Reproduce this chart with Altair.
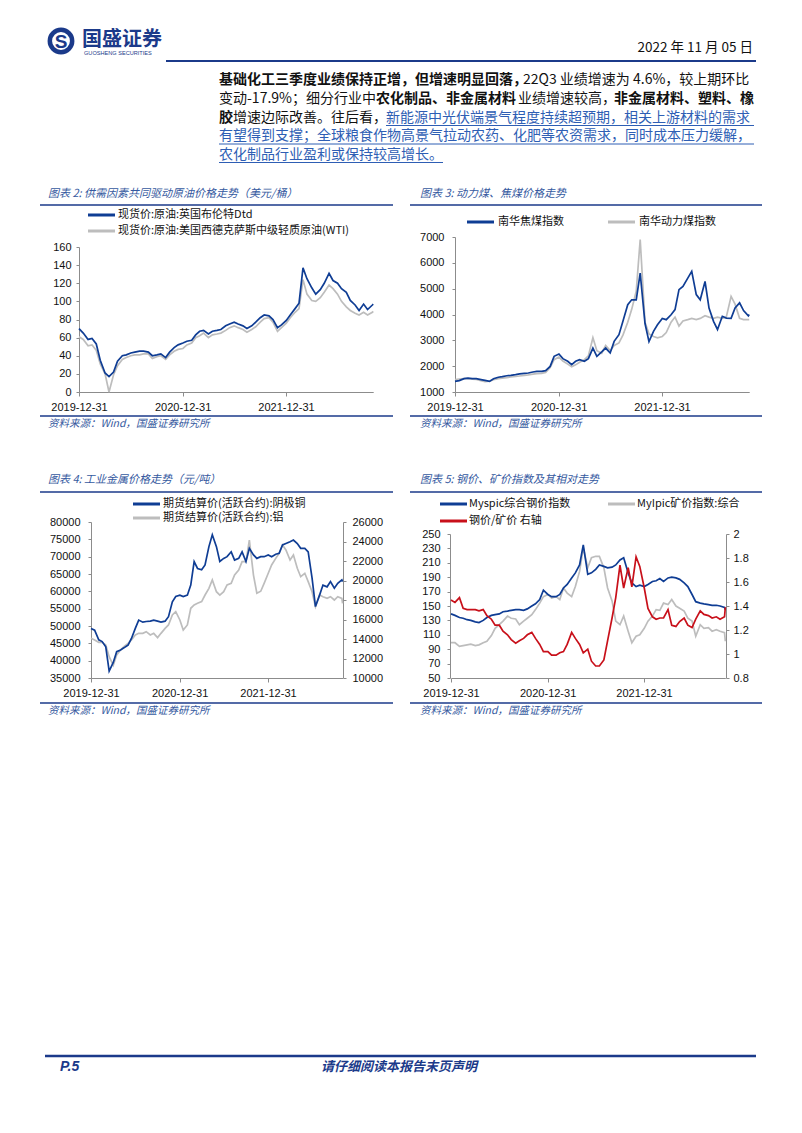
import altair as alt
import pandas as pd

# ---------------- data ----------------
dates = (["2019-12-31"]
         + [d.strftime("%Y-%m-%d") for d in pd.date_range("2020-01-15", "2022-11-01", freq="SMS")]
         + ["2022-11-04"])

brent = [70, 65, 58, 59, 53, 35, 21, 17, 22, 34,
         40, 41, 43, 44, 45, 45, 44, 40, 41, 42,
         38, 44, 49, 52, 54, 56, 57, 63, 67, 68,
         64, 67, 68, 69, 73, 75, 77, 75, 73, 70,
         73, 77, 82, 85, 84, 80, 71, 74, 79, 85,
         92, 98, 137, 125, 115, 108, 113, 120, 131, 123,
         120, 114, 110, 101, 96, 90, 97, 91, 96, 97]
wti = [61, 58, 51, 52, 46, 31, 20, 0, 19, 29,
       36, 38, 40, 41, 41, 42, 42, 37, 39, 40,
       36, 41, 45, 47, 48, 52, 54, 60, 62, 65,
       60, 63, 64, 65, 68, 71, 73, 71, 69, 66,
       69, 72, 77, 81, 82, 77, 67, 71, 76, 82,
       88, 92, 124, 108, 101, 100, 104, 110, 118, 114,
       108, 100, 94, 90, 87, 85, 88, 85, 88, 89]

coking_coal = [1413, 1440, 1515, 1540, 1515, 1515, 1480, 1450, 1410, 1515,
               1570, 1595, 1630, 1645, 1670, 1700, 1720, 1735, 1775, 1800,
               1800, 1825, 1990, 2380, 2470, 2290, 2190, 2060, 2190, 2250,
               2190, 2290, 2700, 2380, 2550, 2700, 2510, 2960, 3220, 3735,
               4380, 4570, 4570, 5600, 3650, 2950, 3350, 3600, 3850, 3800,
               3990, 4190, 4960, 5090, 5410, 5670, 4770, 4570, 5280, 4250,
               3735, 3420, 3930, 3860, 3850, 4250, 4450, 4150, 3950, 4000]
thermal_coal = [1480, 1500, 1520, 1520, 1500, 1490, 1440, 1400, 1420, 1480,
                1520, 1540, 1560, 1580, 1600, 1620, 1640, 1660, 1690, 1710,
                1720, 1760, 1950, 2250, 2350, 2200, 2080, 1980, 2050, 2150,
                2250, 2400, 3100, 2600, 2500, 2800, 2600, 2800, 2900, 3200,
                3700, 4200, 4900, 6900, 3700, 3250, 3150, 3100, 3150, 3300,
                3700, 3900, 3550, 3750, 3800, 3850, 3800, 3850, 3950, 3900,
                3850, 3900, 3850, 3900, 4700, 4400, 3850, 3800, 3800, 3800]

copper = [49300, 48800, 46000, 45500, 44000, 37000, 39500, 42600, 43100, 43700,
          44500, 46400, 49300, 51700, 51100, 51300, 51400, 51700, 51400, 51100,
          51400, 52700, 57000, 58500, 58900, 58500, 58900, 61800, 68600, 66600,
          66200, 67600, 72900, 76300, 72900, 68600, 69500, 70000, 71400, 69000,
          69500, 71400, 68600, 72400, 70500, 69500, 70000, 70000, 70500, 70000,
          70700, 71000, 73400, 73800, 74300, 74800, 73800, 72400, 72400, 71400,
          63800, 55600, 58900, 61800, 61300, 62800, 60900, 62300, 63300, 62800]
aluminium = [14070, 13900, 13660, 13660, 13380, 12190, 11300, 12360, 12870, 13210,
             13560, 13900, 14410, 14580, 14580, 14750, 14410, 14580, 14140, 14580,
             15090, 15440, 16460, 16800, 15950, 14920, 15440, 17150, 17490, 17660,
             17830, 18510, 19200, 20050, 18850, 18510, 18850, 19540, 19710, 20560,
             21080, 21930, 21930, 24150, 20560, 18700, 18900, 19710, 20740, 21590,
             22270, 22790, 23640, 23130, 22100, 22620, 21250, 20390, 20740, 19880,
             18850, 17320, 18510, 18340, 18170, 18340, 18000, 18340, 18170, 17660]

steel_idx = [139, 137, 134, 133, 131, 130, 128, 127, 130, 134,
             137, 138, 139, 142, 143, 144, 145, 145, 144, 146,
             150, 153, 159, 172, 166, 163, 163, 166, 175, 180,
             189, 196, 207, 235, 194, 196, 201, 207, 205, 203,
             204, 207, 214, 217, 196, 182, 177, 179, 177, 180,
             184, 185, 188, 184, 189, 190, 189, 187, 182, 177,
             166, 156, 154, 153, 152, 151, 151, 150, 148, 145]
ore_idx = [99, 99, 94, 95, 96, 97, 95, 96, 99, 101,
           109, 119, 124, 129, 136, 133, 132, 124, 129, 133,
           138, 145, 154, 163, 166, 161, 163, 159, 175, 168,
           163, 177, 198, 231, 203, 217, 219, 219, 203, 175,
           157, 129, 124, 136, 115, 99, 108, 110, 119, 129,
           136, 145, 144, 154, 152, 159, 150, 147, 143, 133,
           129, 108, 124, 119, 120, 115, 117, 115, 113, 101]
steel_ore_ratio = [1.45, 1.43, 1.47, 1.38, 1.37, 1.37, 1.37, 1.36, 1.37, 1.32,
                   1.29, 1.24, 1.24, 1.19, 1.16, 1.12, 1.09, 1.11, 1.13, 1.16,
                   1.18, 1.13, 1.08, 1.02, 1.02, 0.99, 0.99, 1.01, 1.02, 1.08,
                   1.18, 1.13, 1.08, 1.01, 1.04, 0.94, 0.90, 0.90, 0.95, 1.11,
                   1.30, 1.47, 1.74, 1.55, 1.72, 1.56, 1.81, 1.73, 1.55, 1.38,
                   1.31, 1.29, 1.30, 1.30, 1.37, 1.24, 1.23, 1.27, 1.30, 1.24,
                   1.22, 1.29, 1.36, 1.33, 1.32, 1.30, 1.31, 1.29, 1.31, 1.39]

x_tick_dates = [(2019, 12, 31), (2020, 12, 31), (2021, 12, 31)]
ticks2 = [0, 20, 40, 60, 80, 100, 120, 140, 160]
ticks3 = [1000, 2000, 3000, 4000, 5000, 6000, 7000]
ticks4_left = [35000, 40000, 45000, 50000, 55000, 60000, 65000, 70000, 75000, 80000]
ticks4_right = [10000, 12000, 14000, 16000, 18000, 20000, 22000, 24000, 26000]
ticks5_left = [50, 70, 90, 110, 130, 150, 170, 190, 210, 230, 250]
ticks5_right = [0.8, 1.0, 1.2, 1.4, 1.6, 1.8, 2.0]

# ---------------- texts ----------------
company = "国盛证券"
company_en = "GUOSHENG SECURITIES"
report_date = "2022 年 11 月 05 日"
paragraph = [
    [("b", "基础化工三季度业绩保持正增，但增速明显回落，"), ("n", "22Q3 业绩增速为 4.6%，较上期环比")],
    [("n", "变动-17.9%；细分行业中"), ("b", "农化制品、非金属材料"), ("n", "业绩增速较高，"), ("b", "非金属材料、塑料、橡")],
    [("b", "胶"), ("n", "增速边际改善。往后看，"), ("l", "新能源中光伏端景气程度持续超预期，相关上游材料的需求")],
    [("l", "有望得到支撑；全球粮食作物高景气拉动农药、化肥等农资需求，同时成本压力缓解，")],
    [("l", "农化制品行业盈利或保持较高增长。")],
]
title2 = "图表 2:  供需因素共同驱动原油价格走势（美元/桶）"
title3 = "图表 3:  动力煤、焦煤价格走势"
title4 = "图表 4:  工业金属价格走势（元/吨）"
title5 = "图表 5:  钢价、矿价指数及其相对走势"
source = "资料来源：Wind，国盛证券研究所"
leg2 = ["现货价:原油:英国布伦特Dtd", "现货价:原油:美国西德克萨斯中级轻质原油(WTI)"]
leg3 = ["南华焦煤指数", "南华动力煤指数"]
leg4 = ["期货结算价(活跃合约):阴极铜", "期货结算价(活跃合约):铝"]
leg5 = ["Myspic综合钢价指数", "MyIpic矿价指数:综合", "钢价/矿价 右轴"]
footer_page = "P.5"
footer_note = "请仔细阅读本报告末页声明"

df = pd.DataFrame({
    "date": dates, "brent": brent, "wti": wti,
    "coking": coking_coal, "thermal": thermal_coal,
    "copper": copper, "alum": aluminium,
    "steel": steel_idx, "ore": ore_idx, "ratio": steel_ore_ratio,
})

# ---------------- style / layout ----------------
W, H = 786, 1100
M = 8
CJK = "Noto Sans CJK SC"
LAT = "Liberation Sans"
BLACK = "#111111"
NAVY = "#1B3A8A"
TITLE_BLUE = "#3559A0"
LINK_BLUE = "#2E5EB4"
LINE_BLUE = "#0F3D94"
LINE_GREY = "#BDBDBD"
LINE_RED = "#C8101A"

one = pd.DataFrame({"k": [0]})


def txt(t, x, y, size=11, color=BLACK, weight="normal", style="normal",
        align="left", font=CJK, baseline="middle"):
    return alt.Chart(one).mark_text(
        text=t, font=font, fontSize=size, fontWeight=weight, fontStyle=style,
        color=color, align=align, baseline=baseline
    ).encode(x=alt.value(x - M), y=alt.value(y - M))


def hrule(x1, x2, y, color, w):
    return alt.Chart(one).mark_rule(color=color, strokeWidth=w).encode(
        x=alt.value(x1 - M), x2=alt.value(x2 - M), y=alt.value(y - M))


def dt(y, m, d):
    return alt.DateTime(year=y, month=m, date=d, utc=True)


X_DOMAIN = [dt(2019, 12, 31), dt(2022, 11, 4)]
X_TICKS = [dt(*t) for t in x_tick_dates]
SPAN = 1039 / 731  # total days / days between first and last tick


def xscale(x0, xlast_tick):
    x1 = x0 + (xlast_tick - x0) * SPAN
    return alt.Scale(type="utc", domain=X_DOMAIN, range=[x0 - M, x1 - M], nice=False)


def yscale(lo, hi, ybot, ytop):
    return alt.Scale(type="linear", domain=[lo, hi], range=[ybot - M, ytop - M],
                     nice=False, zero=False)


def xaxis(ypage):
    return alt.Axis(orient="bottom", offset=(ypage - M) - H, values=X_TICKS,
                    format="%Y-%m-%d", labelFlush=False, labelOverlap=False,
                    tickSize=4, labelPadding=5, title="")


def yaxis(orient, xpage, values, fmt="d", pad=5):
    off = -(xpage - M) if orient == "left" else (xpage - M) - W
    return alt.Axis(orient=orient, offset=off, values=values, format=fmt,
                    labelFlush=False, labelOverlap=False, tickSize=3,
                    labelPadding=pad, title="")


def series(field, color, xs, ys, xax=None, yax=None, width=1.7):
    xenc = alt.X("date:T", scale=xs, axis=xax) if xax is not None else alt.X("date:T", scale=xs, axis=None)
    yenc = alt.Y(f"{field}:Q", scale=ys, axis=yax) if yax is not None else alt.Y(f"{field}:Q", scale=ys, axis=None)
    return alt.Chart(df).mark_line(color=color, strokeWidth=width).encode(x=xenc, y=yenc)


layers = []

# ---- header ----
layers.append(alt.Chart(one).mark_point(shape="circle", size=500, filled=False,
                                        stroke=NAVY, strokeWidth=4.5, opacity=1)
              .encode(x=alt.value(61 - M), y=alt.value(41 - M)))
layers.append(txt("S", 61, 42, size=19, color=NAVY, weight="bold", align="center", font=LAT))
layers.append(txt(company, 82, 40, size=20, color=NAVY, weight="bold"))
layers.append(txt(company_en, 84, 53, size=5.6, color=NAVY, font=LAT))
layers.append(txt(report_date, 753, 48, size=13.5, color=BLACK, align="right"))
layers.append(hrule(166, 756, 61, NAVY, 2.2))

# ---- paragraph ----
para_x = [[219, 523], [219, 376, 518, 614], [219, 233, 386], [219], [219]]
para_y = [80, 99, 117.5, 136, 155]
for segs, xs_, yy in zip(paragraph, para_x, para_y):
    for (kind, t), xx in zip(segs, xs_):
        if kind == "b":
            layers.append(txt(t, xx, yy, size=14, color=BLACK, weight="bold"))
        elif kind == "n":
            layers.append(txt(t, xx, yy, size=14, color=BLACK))
        else:
            layers.append(txt(t, xx, yy, size=14, color=LINK_BLUE))
layers.append(hrule(386, 754, 125.5, LINK_BLUE, 1))
layers.append(hrule(219, 754, 144, LINK_BLUE, 1))
layers.append(hrule(219, 443, 162.5, LINK_BLUE, 1))

# ---- panel frames: titles, rules, sources ----
for (tx, ty, t, lx1, lx2, ly, sy, sly) in [
    (48, 194, title2, 40, 393, 205, 424, 416),
    (420, 194, title3, 410, 762, 205, 424, 416),
    (48, 480, title4, 40, 393, 492, 711, 703),
    (420, 480, title5, 410, 762, 492, 711, 703),
]:
    layers.append(txt(t, tx, ty, size=11, color=TITLE_BLUE, style="italic"))
    layers.append(hrule(lx1, lx2, ly, NAVY, 1.6))
    layers.append(hrule(lx1, lx2, sly, NAVY, 1.6))
    layers.append(txt(source, tx, sy, size=10.5, color=TITLE_BLUE, style="italic"))

# ---- chart 2: crude oil ----
xs2 = xscale(79, 286)
ys2 = yscale(0, 160, 392, 247)
layers.append(series("wti", LINE_GREY, xs2, ys2))
layers.append(series("brent", LINE_BLUE, xs2, ys2, xax=xaxis(392), yax=yaxis("left", 79, ticks2, pad=5)))
layers.append(hrule(88, 115, 215, LINE_BLUE, 3))
layers.append(txt(leg2[0], 118, 215, size=11))
layers.append(hrule(88, 115, 231, LINE_GREY, 3))
layers.append(txt(leg2[1], 118, 231, size=11))

# ---- chart 3: coal ----
xs3 = xscale(455, 662)
ys3 = yscale(1000, 7000, 392, 237)
layers.append(series("thermal", LINE_GREY, xs3, ys3))
layers.append(series("coking", LINE_BLUE, xs3, ys3, xax=xaxis(392), yax=yaxis("left", 455, ticks3, pad=8)))
layers.append(hrule(467, 494, 222, LINE_BLUE, 3))
layers.append(txt(leg3[0], 498, 222, size=11))
layers.append(hrule(608, 635, 222, LINE_GREY, 3))
layers.append(txt(leg3[1], 639, 222, size=11))

# ---- chart 4: metals ----
xs4 = xscale(91, 268)
ys4l = yscale(35000, 80000, 678, 522)
ys4r = yscale(10000, 26000, 678, 522)
layers.append(series("alum", LINE_GREY, xs4, ys4r, yax=yaxis("right", 343, ticks4_right, pad=6)))
layers.append(series("copper", LINE_BLUE, xs4, ys4l, xax=xaxis(678), yax=yaxis("left", 91, ticks4_left, pad=8)))
layers.append(hrule(133, 160, 504, LINE_BLUE, 3))
layers.append(txt(leg4[0], 163, 504, size=11))
layers.append(hrule(133, 160, 518, LINE_GREY, 3))
layers.append(txt(leg4[1], 163, 518, size=11))

# ---- chart 5: steel / ore ----
xs5 = xscale(451, 644)
ys5l = yscale(50, 250, 678, 534)
ys5r = yscale(0.8, 2.0, 678, 534)
layers.append(series("ore", LINE_GREY, xs5, ys5l))
layers.append(series("steel", LINE_BLUE, xs5, ys5l, xax=xaxis(678), yax=yaxis("left", 450, ticks5_left, pad=7)))
layers.append(series("ratio", LINE_RED, xs5, ys5r, yax=yaxis("right", 726, ticks5_right, fmt=".1~f", pad=4)))
layers.append(hrule(440, 467, 504, LINE_BLUE, 3))
layers.append(txt(leg5[0], 469, 504, size=11))
layers.append(hrule(608, 635, 504, LINE_GREY, 3))
layers.append(txt(leg5[1], 637, 504, size=11))
layers.append(hrule(440, 467, 521, LINE_RED, 3))
layers.append(txt(leg5[2], 469, 521, size=11))

# ---- footer ----
layers.append(hrule(45, 756, 1056, NAVY, 2.6))
layers.append(txt(footer_page, 60, 1067, size=14, color=NAVY, weight="bold", style="italic", font=LAT))
layers.append(txt(footer_note, 399, 1067, size=13, color=NAVY, weight="bold", style="italic", align="center"))

chart = (
    alt.layer(*layers)
    .resolve_scale(x="independent", y="independent")
    .properties(width=W, height=H, autosize=alt.AutoSizeParams(type="none"), padding=0)
    .configure_view(stroke=None)
    .configure_axis(grid=False, domainColor="#8C8C8C", tickColor="#8C8C8C",
                    labelFont=LAT, labelFontSize=11, labelColor="#111111",
                    domainWidth=1, tickWidth=1)
)

chart.save("out.html", embed_options={"renderer": "svg", "actions": False})
